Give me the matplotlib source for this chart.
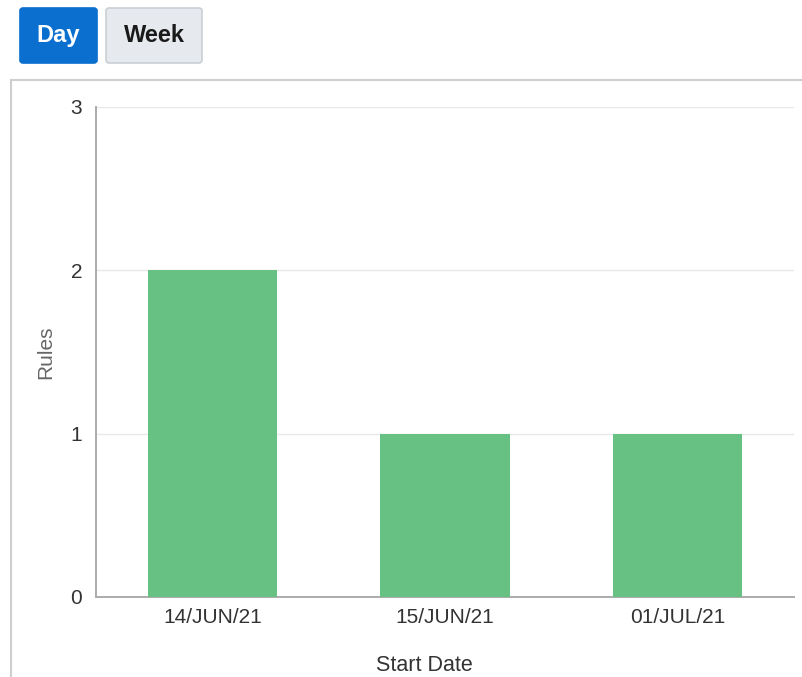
import matplotlib.pyplot as plt
from matplotlib.patches import FancyBboxPatch
from matplotlib.lines import Line2D

# Rules started per day
dates = ['14/JUN/21', '15/JUN/21', '01/JUL/21']
rules = [2, 1, 1]
y_ticks = [0, 1, 2, 3]

BAR = '#67c183'
GRID = '#e8e8e8'
AXIS = '#ababab'
TEXT = '#333333'

W, H = 802, 677
fig = plt.figure(figsize=(W / 100, H / 100), dpi=100)
plt.rcParams['font.family'] = ['Liberation Sans', 'DejaVu Sans']


def px(x, y):
    # pixel coords (top-left origin) -> figure fraction
    return x / W, 1 - y / H


def button(x0, y0, x1, y1, label, face, edge, color):
    (fx0, fy1), (fx1, fy0) = px(x0, y0), px(x1, y1)
    fig.patches.append(FancyBboxPatch(
        (fx0, fy0), fx1 - fx0, fy1 - fy0,
        boxstyle='round,pad=0,rounding_size=0.004',
        transform=fig.transFigure, facecolor=face, edgecolor=edge, lw=1.2))
    fig.text((fx0 + fx1) / 2, (fy0 + fy1) / 2, label, ha='center', va='center',
             fontsize=17, fontweight='bold', color=color)


button(20, 8, 97, 63, 'Day', '#0b6fd0', '#0b6fd0', 'white')
button(106, 8, 202, 63, 'Week', '#e6eaee', '#c9cfd5', '#1a1a1a')

# outer panel frame
lx, ty = px(11, 80)
fig.add_artist(Line2D([lx, lx], [0, ty], transform=fig.transFigure, color='#cfcfcf', lw=1.5))
fig.add_artist(Line2D([lx, 1], [ty, ty], transform=fig.transFigure, color='#cfcfcf', lw=1.5))

ax_l, ax_t = px(96, 107)
ax_r, ax_b = px(794, 597)
ax = fig.add_axes([ax_l, ax_b, ax_r - ax_l, ax_t - ax_b])

x = range(len(dates))
ax.bar(x, rules, width=0.555, color=BAR, zorder=3)

ax.set_xlim(-0.5, len(dates) - 0.5)
ax.set_ylim(0, 3)
ax.set_yticks(y_ticks)
ax.set_xticks(list(x))
ax.set_xticklabels(dates)
ax.yaxis.grid(True, color=GRID, lw=1, zorder=0)
ax.tick_params(length=0, labelsize=15, colors=TEXT, pad=8)
ax.tick_params(axis='y', pad=10)

for s in ('top', 'right'):
    ax.spines[s].set_visible(False)
for s in ('left', 'bottom'):
    ax.spines[s].set_color(AXIS)
    ax.spines[s].set_linewidth(1.4)

ax.set_ylabel('Rules', fontsize=15, color='#666666', labelpad=11)
ax.set_xlabel('Start Date', fontsize=15.5, color=TEXT)
ax.xaxis.set_label_coords(0.471, -0.139, transform=ax.transAxes)
ax.xaxis.label.set_va('center')

fig.savefig('out.png', dpi=100)
